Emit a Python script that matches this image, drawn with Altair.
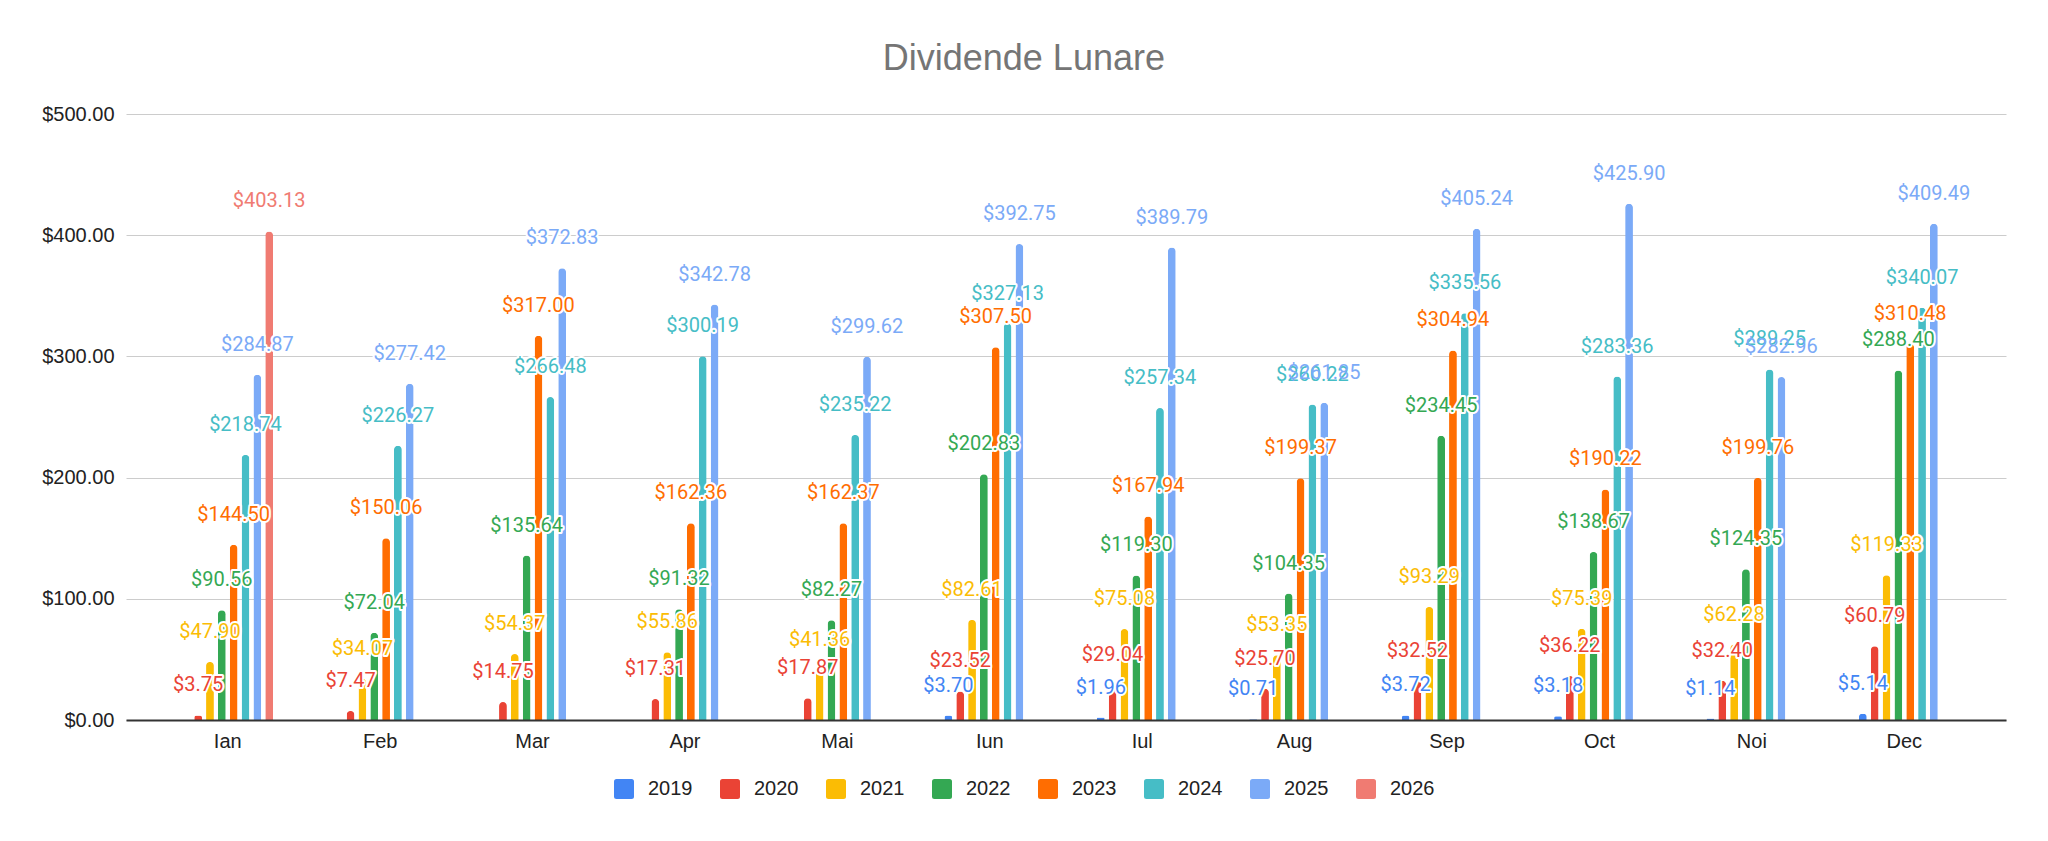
import altair as alt
import pandas as pd

months = ["Ian", "Feb", "Mar", "Apr", "Mai", "Iun", "Iul", "Aug", "Sep", "Oct", "Noi", "Dec"]
years = ["2019", "2020", "2021", "2022", "2023", "2024", "2025", "2026"]
colors = ["#4285F4", "#EA4335", "#FBBC04", "#34A853", "#FF6D01", "#46BDC6", "#7BAAF7", "#F07B72"]

v2019 = [None, None, None, None, None, 3.70, 1.96, 0.71, 3.72, 3.18, 1.14, 5.14]
v2020 = [3.75, 7.47, 14.75, 17.31, 17.87, 23.52, 29.04, 25.70, 32.52, 36.22, 32.40, 60.79]
v2021 = [47.90, 34.07, 54.37, 55.86, 41.36, 82.61, 75.08, 53.35, 93.29, 75.39, 62.28, 119.33]
v2022 = [90.56, 72.04, 135.64, 91.32, 82.27, 202.83, 119.30, 104.35, 234.45, 138.67, 124.35, 288.40]
v2023 = [144.50, 150.06, 317.00, 162.36, 162.37, 307.50, 167.94, 199.37, 304.94, 190.22, 199.76, 310.48]
v2024 = [218.74, 226.27, 266.48, 300.19, 235.22, 327.13, 257.34, 260.22, 335.56, 283.36, 289.25, 340.07]
v2025 = [284.87, 277.42, 372.83, 342.78, 299.62, 392.75, 389.79, 261.85, 405.24, 425.90, 282.96, 409.49]
v2026 = [403.13, None, None, None, None, None, None, None, None, None, None, None]

series = [v2019, v2020, v2021, v2022, v2023, v2024, v2025, v2026]
rows = []
for yr, vals in zip(years, series):
    for m, v in zip(months, vals):
        if v is not None:
            rows.append({"Luna": m, "An": yr, "Valoare": v})
df = pd.DataFrame(rows)

AX_FONT = "Liberation Sans"

x_enc = alt.X(
    "Luna:N",
    sort=months,
    scale=alt.Scale(domain=months, paddingInner=0.405, paddingOuter=0.37),
    axis=alt.Axis(
        title=None, labelAngle=0, ticks=False, grid=False,
        domainColor="#333333", domainWidth=2, zindex=1,
        labelFont=AX_FONT, labelFontSize=20, labelColor="#222222", labelPadding=11,
    ),
)
xo_enc = alt.XOffset("An:N", scale=alt.Scale(domain=years, paddingInner=0.34, paddingOuter=0))
y_enc = alt.Y(
    "Valoare:Q",
    scale=alt.Scale(domain=[0, 500], nice=False),
    axis=alt.Axis(
        title=None, values=[0, 100, 200, 300, 400, 500], format="$.2f",
        ticks=False, domain=False, gridColor="#cccccc", gridWidth=1,
        labelFont=AX_FONT, labelFontSize=20, labelColor="#222222", labelPadding=12,
    ),
)

rounded_sq = "M-0.75,-1H0.75Q1,-1,1,-0.75V0.75Q1,1,0.75,1H-0.75Q-1,1,-1,0.75V-0.75Q-1,-1,-0.75,-1Z"

color_scale = alt.Scale(domain=years, range=colors)
color_enc = alt.Color(
    "An:N",
    scale=color_scale,
    legend=alt.Legend(
        title=None, orient="none", legendX=488, legendY=665, direction="horizontal",
        columns=8, symbolType=rounded_sq, symbolSize=400, symbolStrokeWidth=0,
        symbolOpacity=1, labelFont=AX_FONT, labelFontSize=20, labelColor="#222222",
        labelOffset=14, columnPadding=27, padding=0,
    ),
)

base = alt.Chart(df)
text_val = alt.Text("Valoare:Q", format="$.2f")

bars = base.mark_bar(cornerRadiusEnd=4).encode(x=x_enc, xOffset=xo_enc, y=y_enc, color=color_enc)

halo = base.mark_text(
    font="Roboto", fontSize=20, dy=-30, baseline="middle",
    fill="white", stroke="white", strokeWidth=4, strokeJoin="round",
).encode(x=x_enc, xOffset=xo_enc, y=y_enc, text=text_val)

labels = base.mark_text(
    font="Roboto", fontSize=20, dy=-30, baseline="middle",
).encode(
    x=x_enc, xOffset=xo_enc, y=y_enc, text=text_val,
    color=alt.Color("An:N", scale=color_scale, legend=None),
)

chart = alt.layer(bars, halo, labels).properties(
    width=1880,
    height=606,
    padding={"left": 118, "top": 106, "right": 26, "bottom": 100},
    autosize=alt.AutoSizeParams(type="none"),
    background="white",
    title=alt.TitleParams(
        "Dividende Lunare", font=AX_FONT, fontSize=36, fontWeight="normal",
        color="#757575", anchor="middle", frame="bounds", baseline="alphabetic", offset=-2,
    ),
).configure_view(strokeOpacity=0)

chart.save("out.html", embed_options={"renderer": "svg", "actions": False})
